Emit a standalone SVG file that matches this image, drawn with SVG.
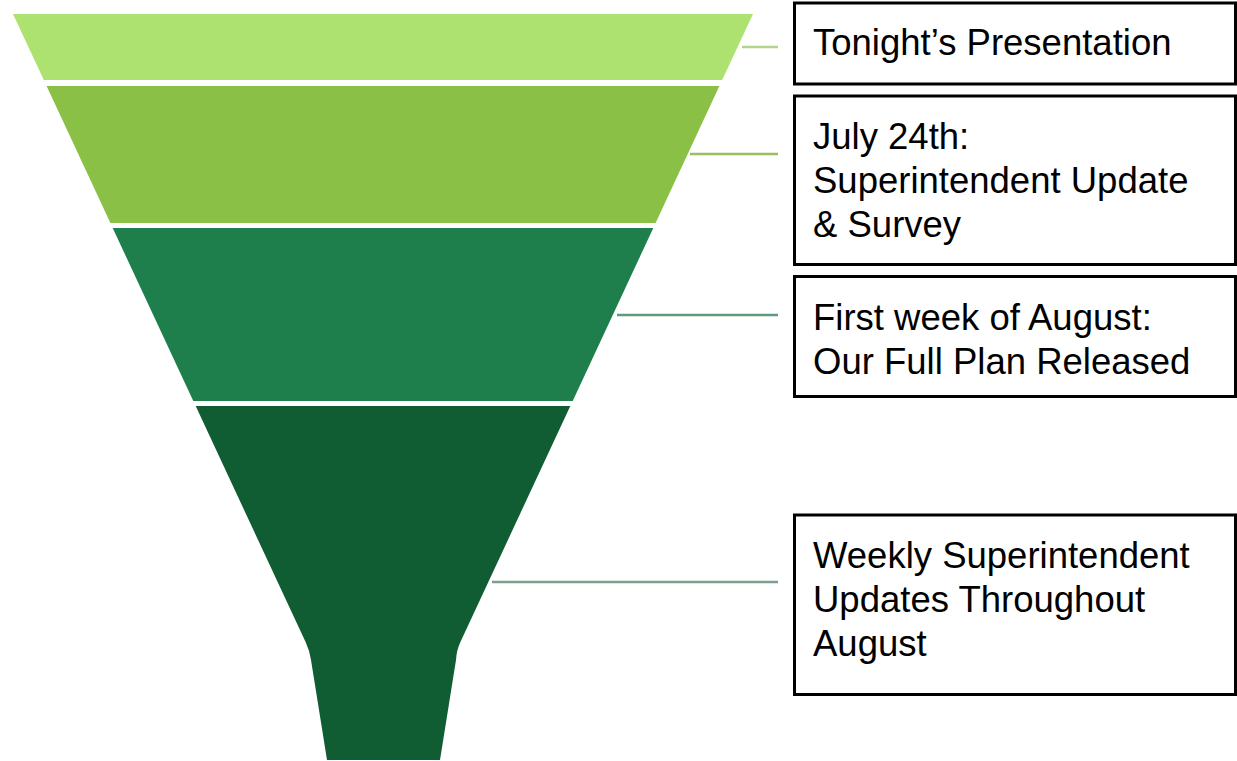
<svg xmlns="http://www.w3.org/2000/svg" width="1237" height="761" viewBox="0 0 1237 761">
  <style>
    .box { fill: #ffffff; stroke: #000000; stroke-width: 3; }
    .lbl { font-family: "Liberation Sans", Arial, sans-serif; font-size: 36.5px; fill: #000000; }
    .conn { fill: none; stroke-width: 2.5; }
  </style>
  <rect x="0" y="0" width="1237" height="761" fill="#ffffff"/>

  <g id="funnel">
    <polygon id="band1" points="13,14 753,14 722.2,80 43.8,80" fill="#aee270"/>
    <polygon id="band2" points="46.6,86 719.4,86 655.6,223 110.4,223" fill="#8bc046"/>
    <polygon id="band3" points="112.7,228 653.3,228 572.7,401 193.3,401" fill="#1f7f4c"/>
    <path id="band4" d="M195.7,406 L570.3,406 L460.4,642 Q456.6,650 456,660 L440,760 L327,760 L311,660 Q309.4,650 305.6,642 Z" fill="#105c33"/>
  </g>

  <g id="connectors">
    <line class="conn" x1="742" y1="47" x2="778" y2="47" stroke="#b3d38a"/>
    <line class="conn" x1="690" y1="154" x2="778" y2="154" stroke="#9cbd5e"/>
    <line class="conn" x1="617" y1="315" x2="778" y2="315" stroke="#5e9a7c"/>
    <line class="conn" x1="492" y1="582" x2="778" y2="582" stroke="#7c9f8c"/>
  </g>

  <g id="node1">
    <rect class="box" x="794.5" y="3" width="441" height="81"/>
    <text class="lbl" x="813" y="55">Tonight’s Presentation</text>
  </g>

  <g id="node2">
    <rect class="box" x="794.5" y="96" width="441" height="168.5"/>
    <text class="lbl" x="813" y="149">July 24th:</text>
    <text class="lbl" x="813" y="193">Superintendent Update</text>
    <text class="lbl" x="813" y="237">&amp; Survey</text>
  </g>

  <g id="node3">
    <rect class="box" x="794.5" y="276.5" width="441" height="120"/>
    <text class="lbl" x="813" y="330">First week of August:</text>
    <text class="lbl" x="813" y="374">Our Full Plan Released</text>
  </g>

  <g id="node4">
    <rect class="box" x="794.5" y="515" width="441" height="179.5"/>
    <text class="lbl" x="813" y="568">Weekly Superintendent</text>
    <text class="lbl" x="813" y="612">Updates Throughout</text>
    <text class="lbl" x="813" y="656">August</text>
  </g>
</svg>
